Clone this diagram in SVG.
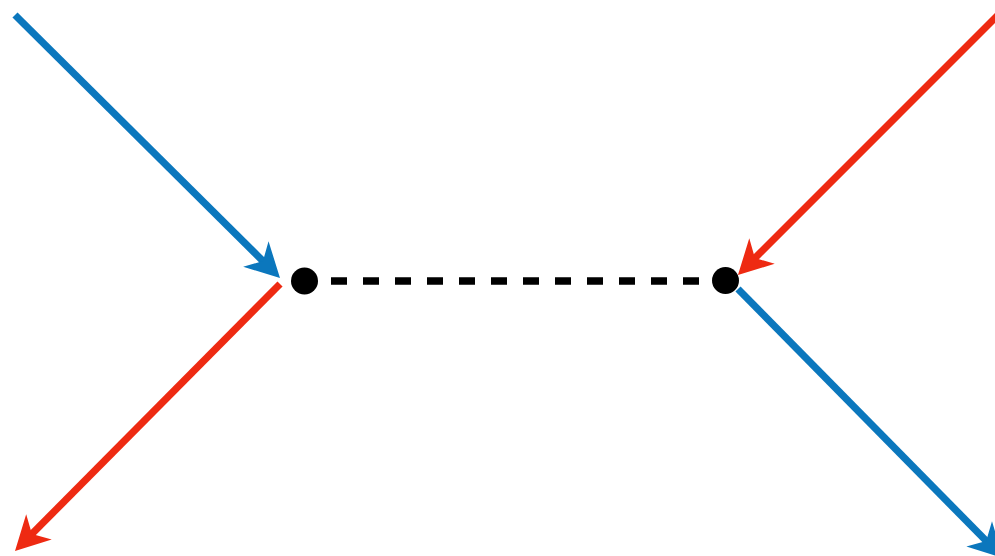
<svg xmlns="http://www.w3.org/2000/svg" width="995" height="556" viewBox="0 0 995 556">
<style>
.blue{stroke:#0b77bd;stroke-width:7.2;fill:none}
.red{stroke:#ee2a12;stroke-width:7.2;fill:none}
.dash{stroke:#000;stroke-width:7.5;stroke-dasharray:16 16;fill:none}
.dot{fill:#000}
</style>
<defs>
<marker id="ahb" markerUnits="userSpaceOnUse" markerWidth="44" markerHeight="44" refX="0" refY="0" orient="auto" overflow="visible" viewBox="-22 -22 44 44">
<path d="M20,0 L-14,-18 L-4,0 L-14,18 Z" fill="#0b77bd"/>
</marker>
<marker id="ahr" markerUnits="userSpaceOnUse" markerWidth="44" markerHeight="44" refX="0" refY="0" orient="auto" overflow="visible" viewBox="-22 -22 44 44">
<path d="M20,0 L-14,-18 L-4,0 L-14,18 Z" fill="#ee2a12"/>
</marker>
</defs>
<g id="connectors">
<line class="blue" x1="15" y1="15" x2="265.8" y2="263.9" marker-end="url(#ahb)"/>
<line class="red" x1="280" y1="284" x2="29.1" y2="536.8" marker-end="url(#ahr)"/>
<line class="red" x1="1012" y1="1" x2="752.1" y2="260.9" marker-end="url(#ahr)"/>
<line class="blue" x1="738" y1="289" x2="989" y2="543.8" marker-end="url(#ahb)"/>
<line class="dash" x1="331" y1="281" x2="700" y2="281"/>
</g>
<g id="node-left"><circle class="dot" cx="304.5" cy="281" r="13.5"/></g>
<g id="node-right"><circle class="dot" cx="725.5" cy="280.5" r="13.5"/></g>
</svg>
